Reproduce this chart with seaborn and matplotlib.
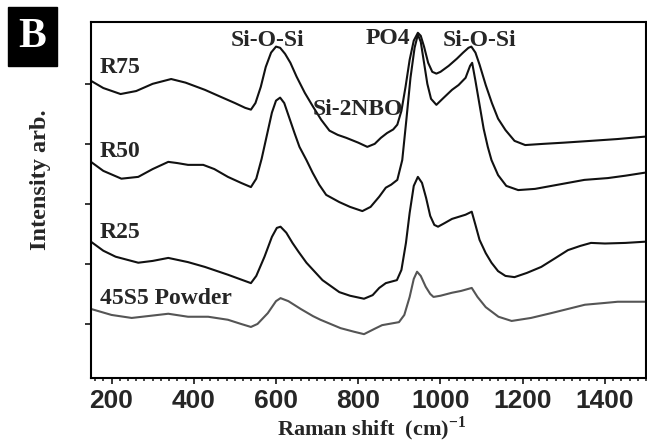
import numpy as np
import pandas as pd
import matplotlib
matplotlib.use("Agg")
import matplotlib.pyplot as plt
from matplotlib.ticker import MultipleLocator, NullFormatter
import seaborn as sns

# Raman spectra (offset for clarity), intensity in arbitrary units
r75_shift = [150, 180, 222, 260, 300, 345, 380, 427, 460, 500, 525, 539, 550, 563, 575, 588, 600,
             610, 622, 635, 650, 670, 690, 710, 730, 750, 771, 800, 822, 840, 855, 870, 885, 895,
             905, 915, 925, 935, 945, 952, 960, 970, 980, 990, 1000, 1020, 1040, 1055, 1068, 1075,
             1085, 1095, 1110, 1125, 1140, 1158, 1180, 1206, 1250, 1300, 1366, 1430, 1497]
r75_int = [5.05, 4.93, 4.83, 4.88, 5.00, 5.08, 5.02, 4.90, 4.80, 4.68, 4.60, 4.57, 4.68, 4.95, 5.28,
           5.52, 5.62, 5.60, 5.50, 5.35, 5.12, 4.85, 4.62, 4.40, 4.22, 4.15, 4.10, 4.02, 3.95, 4.00,
           4.10, 4.18, 4.24, 4.32, 4.55, 4.95, 5.40, 5.72, 5.85, 5.80, 5.62, 5.35, 5.20, 5.17, 5.20,
           5.30, 5.42, 5.52, 5.60, 5.62, 5.52, 5.32, 4.98, 4.68, 4.42, 4.23, 4.05, 3.98, 4.00, 4.02,
           4.05, 4.08, 4.12]

r50_shift = [150, 180, 224, 265, 300, 338, 360, 386, 423, 450, 483, 515, 539, 552, 565, 578, 590,
             600, 610, 620, 633, 645, 657, 674, 689, 705, 722, 754, 780, 810, 830, 851, 867, 880,
             895, 907, 917, 927, 937, 945, 952, 960, 968, 977, 990, 1005, 1028, 1044, 1061, 1072,
             1077, 1085, 1095, 1105, 1115, 1124, 1140, 1160, 1189, 1230, 1286, 1350, 1407, 1450, 1497]
r50_int = [3.70, 3.55, 3.42, 3.45, 3.58, 3.70, 3.68, 3.65, 3.65, 3.58, 3.45, 3.35, 3.28, 3.42, 3.75,
           4.15, 4.52, 4.72, 4.77, 4.68, 4.42, 4.18, 3.95, 3.73, 3.52, 3.32, 3.15, 3.03, 2.95, 2.88,
           2.95, 3.12, 3.27, 3.32, 3.40, 3.73, 4.40, 5.10, 5.60, 5.82, 5.70, 5.35, 5.00, 4.75, 4.65,
           4.75, 4.90, 4.98, 5.10, 5.30, 5.35, 5.05, 4.65, 4.25, 3.95, 3.73, 3.48, 3.30, 3.23, 3.25,
           3.32, 3.40, 3.43, 3.47, 3.52]

r25_shift = [150, 180, 210, 265, 300, 338, 386, 427, 483, 515, 539, 552, 572, 590, 602, 611, 625,
             640, 655, 674, 713, 754, 780, 814, 835, 851, 867, 894, 905, 916, 925, 935, 945, 955,
             965, 975, 985, 994, 1010, 1028, 1061, 1076, 1085, 1095, 1110, 1124, 1140, 1158, 1180,
             1210, 1245, 1280, 1310, 1340, 1366, 1400, 1450, 1497]
r25_int = [2.37, 2.22, 2.12, 2.02, 2.05, 2.10, 2.03, 1.95, 1.82, 1.74, 1.68, 1.80, 2.12, 2.45, 2.60,
           2.62, 2.52, 2.35, 2.20, 2.02, 1.73, 1.53, 1.47, 1.42, 1.48, 1.60, 1.68, 1.73, 1.90, 2.35,
           2.85, 3.30, 3.45, 3.35, 3.10, 2.80, 2.65, 2.62, 2.68, 2.75, 2.82, 2.87, 2.65, 2.40, 2.18,
           2.02, 1.88, 1.80, 1.78, 1.85, 1.95, 2.10, 2.23, 2.30, 2.35, 2.34, 2.35, 2.37]

powder_shift = [150, 200, 249, 300, 338, 386, 435, 483, 515, 539, 555, 580, 600, 611, 630, 660, 690,
                708, 757, 790, 814, 840, 858, 899, 912, 925, 935, 943, 952, 964, 975, 983, 1000,
                1028, 1050, 1076, 1090, 1110, 1141, 1173, 1220, 1269, 1310, 1351, 1400, 1431, 1497]
powder_int = [1.25, 1.15, 1.10, 1.14, 1.17, 1.12, 1.12, 1.07, 1.00, 0.95, 1.00, 1.18, 1.38, 1.43,
              1.38, 1.25, 1.13, 1.07, 0.93, 0.87, 0.83, 0.92, 0.98, 1.03, 1.15, 1.45, 1.75, 1.87,
              1.80, 1.62, 1.50, 1.45, 1.47, 1.52, 1.55, 1.60, 1.45, 1.28, 1.12, 1.05, 1.10, 1.18,
              1.25, 1.32, 1.35, 1.37, 1.37]

sample_names = ["R75", "R50", "R25", "45S5 Powder"]
band_labels = ["Si-O-Si", "PO4", "Si-O-Si", "Si-2NBO"]
x_ticks = [200, 400, 600, 800, 1000, 1200, 1400]

frames = []
for name, xs, ys in zip(sample_names,
                        [r75_shift, r50_shift, r25_shift, powder_shift],
                        [r75_int, r50_int, r25_int, powder_int]):
    frames.append(pd.DataFrame({"shift": xs, "intensity": ys, "sample": name}))
df = pd.concat(frames, ignore_index=True)

sns.set_style("ticks")
plt.rcParams["font.family"] = ["Liberation Serif", "DejaVu Serif"]
plt.rcParams["mathtext.fontset"] = "custom"
plt.rcParams["mathtext.rm"] = "Liberation Serif:bold"
plt.rcParams["mathtext.bf"] = "Liberation Serif:bold"

fig = plt.figure(figsize=(6.47, 4.48), dpi=100)
ax = fig.add_axes([0.1406, 0.1563, 0.858, 0.7946])

palette = {"R75": "#111111", "R50": "#111111", "R25": "#111111", "45S5 Powder": "#555555"}
sns.lineplot(data=df, x="shift", y="intensity", hue="sample", palette=palette,
             sort=False, estimator=None, legend=False, linewidth=1.5, ax=ax)

ax.set_xlim(150, 1500)
ax.set_ylim(0.1, 6.03)
ax.set_xticks(x_ticks)
ax.xaxis.set_minor_locator(MultipleLocator(20))
ax.set_yticks([1, 2, 3, 4, 5])
ax.yaxis.set_major_formatter(NullFormatter())
for side in ["left", "right", "top", "bottom"]:
    ax.spines[side].set_linewidth(1.5)
    ax.spines[side].set_color("black")
ax.tick_params(axis="x", which="major", direction="out", length=4, width=1.3, pad=4)
ax.tick_params(axis="x", which="minor", direction="out", length=2.5, width=1.2)
ax.tick_params(axis="y", which="major", direction="out", length=4, width=1.3)
for lab in ax.get_xticklabels():
    lab.set_fontfamily("Liberation Sans")
    lab.set_fontweight("bold")
    lab.set_fontsize(19)

ax.set_xlabel("")
ax.set_ylabel("")
fig.text(0.575, 0.028, r"Raman shift  (cm)$^{-1}$", fontsize=16, fontweight="bold",
         ha="center", va="baseline")
fig.text(0.062, 0.600, "Intensity arb.", rotation=90, fontsize=17.5, fontweight="bold",
         ha="center", va="center")

# Sample names
txt = dict(fontsize=17, fontweight="bold", ha="left", va="center")
ax.text(172, 5.28, sample_names[0], **txt)
ax.text(172, 3.87, sample_names[1], **txt)
ax.text(172, 2.52, sample_names[2], **txt)
ax.text(172, 1.43, sample_names[3], **txt)

# Band assignments
btxt = dict(fontsize=17, fontweight="bold", ha="center", va="center")
ax.text(580, 5.73, band_labels[0], **btxt)
ax.text(873, 5.75, band_labels[1], **btxt)
ax.text(1095, 5.72, band_labels[2], **btxt)
ax.text(798, 4.57, band_labels[3], **btxt)

# Panel letter
fig.text(0.050, 0.918, "B", fontsize=30, fontweight="bold", color="white",
         ha="center", va="center",
         bbox=dict(boxstyle="square,pad=0.25", facecolor="black", edgecolor="black"))

fig.savefig("out.png", dpi=100)
